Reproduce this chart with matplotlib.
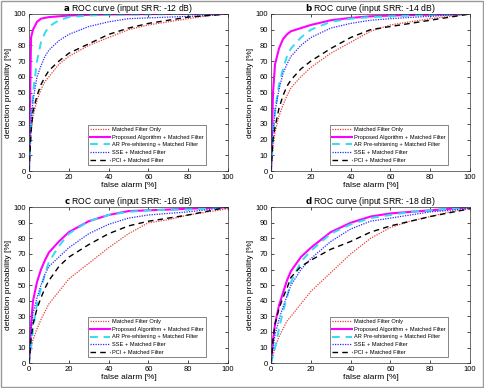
import numpy as np
import matplotlib.pyplot as plt
from matplotlib.patches import Rectangle

plt.rcParams['font.family'] = ['Liberation Sans', 'DejaVu Sans']

# false alarm grid [%]
fa = [0, 1, 2, 4, 6, 8, 10, 15, 20, 30, 40, 50, 60, 70, 80, 90, 100]

panels = ["a", "b", "c", "d"]
srr = [-12, -14, -16, -18]

labels = ["Matched Filter Only",
          "Proposed Algorithm + Matched Filter",
          "AR Pre-whitening + Matched Filter",
          "SSE + Matched Filter",
          "PCI + Matched Filter"]

# detection probability [%] per panel
mf_only = [
    [0, 25, 35, 45, 52, 57, 60, 68, 73, 80, 85, 90, 93, 95, 97, 99, 100],
    [0, 15, 25, 35, 42, 48, 53, 60, 66, 75, 82, 89, 93, 95, 97, 98.5, 100],
    [0, 10, 15, 22, 28, 33, 38, 46, 54, 64, 74, 83, 90, 92, 95, 97, 99],
    [0, 5, 10, 17, 22, 27, 30, 38, 46, 58, 70, 80, 87, 91, 94, 97, 99],
]
proposed = [
    [0, 85, 90, 95, 97, 97.5, 98, 98.5, 99, 99.5, 99.7, 99.8, 99.9, 100, 100, 100, 100],
    [0, 50, 68, 78, 84, 87, 89, 91, 93, 96, 97.5, 98.5, 99, 99.3, 99.5, 99.8, 100],
    [0, 25, 40, 52, 60, 66, 71, 78, 84, 91, 95, 97.5, 98, 98.5, 99, 99.5, 100],
    [0, 15, 25, 37, 45, 53, 59, 68, 74, 84, 90, 94, 96, 97, 98, 99, 100],
]
ar_pw = [
    [0, 30, 50, 70, 82, 88, 92, 96, 98, 99, 99.5, 99.7, 99.8, 99.9, 100, 100, 100],
    [0, 25, 38, 55, 65, 73, 78, 85, 90, 95, 97, 98, 98.5, 99, 99.5, 99.8, 100],
    [0, 10, 22, 38, 48, 57, 65, 75, 83, 91, 95, 97, 98, 98.3, 98.5, 99.3, 100],
    [0, 5, 10, 22, 33, 42, 52, 65, 72, 83, 89, 93, 95, 97, 98, 99, 100],
]
sse = [
    [0, 30, 45, 60, 67, 73, 77, 83, 87, 92, 95, 97, 97.5, 98, 98.5, 99, 100],
    [0, 25, 38, 52, 62, 68, 73, 80, 85, 91, 94, 96, 97, 97.8, 98.5, 99.3, 100],
    [0, 20, 32, 42, 50, 57, 62, 68, 74, 83, 89, 93, 95, 96, 97, 98.5, 100],
    [0, 10, 18, 28, 36, 43, 50, 60, 67, 78, 86, 91, 93, 95, 97, 98, 99.5],
]
pci = [
    [0, 25, 38, 48, 55, 60, 64, 70, 75, 81, 87, 91, 94, 96, 98, 99, 100],
    [0, 20, 28, 40, 48, 54, 58, 65, 70, 78, 85, 90, 92, 94, 96, 98, 100],
    [0, 15, 25, 35, 42, 48, 53, 62, 68, 76, 83, 88, 91, 93, 95, 97.5, 100],
    [0, 15, 25, 35, 42, 48, 55, 62, 66, 73, 78, 84, 88, 91, 94, 96.5, 99],
]

styles = [
    dict(color="#e8403a", linestyle=(0, (1, 1)), linewidth=0.9),
    dict(color="#ff00ff", linestyle="-", linewidth=1.5),
    dict(color="#33ddee", linestyle=(0, (4, 3)), linewidth=1.4),
    dict(color="#2a2aff", linestyle=(0, (1, 1)), linewidth=0.9),
    dict(color="black", linestyle=(0, (4, 3)), linewidth=1.0),
]

fig = plt.figure(figsize=(4.84, 3.88), dpi=100)
fig.patches.append(Rectangle((0.002, 0.002), 0.996, 0.996, transform=fig.transFigure,
                             fill=False, edgecolor="#999999", linewidth=1.0))

positions = [
    [0.060, 0.559, 0.411, 0.405],
    [0.560, 0.559, 0.411, 0.405],
    [0.060, 0.064, 0.411, 0.402],
    [0.560, 0.064, 0.411, 0.402],
]

for i in range(4):
    ax = fig.add_axes(positions[i])
    series = [mf_only[i], proposed[i], ar_pw[i], sse[i], pci[i]]
    for s, lab, st in zip(series, labels, styles):
        ax.plot(fa, s, label=lab, **st)
    ax.set_xlim(0, 100)
    ax.set_ylim(0, 100)
    ax.set_xticks(np.arange(0, 101, 20))
    ax.set_yticks(np.arange(0, 101, 10))
    ax.tick_params(direction="in", top=True, right=True, labelsize=5.5,
                   length=2, width=0.5, pad=2)
    for sp in ax.spines.values():
        sp.set_linewidth(0.5)
        sp.set_color("#333333")
    ax.set_xlabel("false alarm [%]", fontsize=6, labelpad=1)
    ax.set_ylabel("detection probability [%]", fontsize=6, labelpad=1)
    ax.set_title(r"$\mathbf{%s}$ ROC curve (input SRR: %d dB)" % (panels[i], srr[i]),
                 fontsize=6.2, pad=2)
    leg = ax.legend(loc="lower right", fontsize=4.1, frameon=True, fancybox=False,
                    edgecolor="#555555", framealpha=1, handlelength=3.6,
                    borderpad=0.4, labelspacing=0.48, handletextpad=0.3,
                    borderaxespad=0, bbox_to_anchor=(0.89, 0.038))
    leg.get_frame().set_linewidth(0.5)

fig.savefig("out.png", dpi=100)
